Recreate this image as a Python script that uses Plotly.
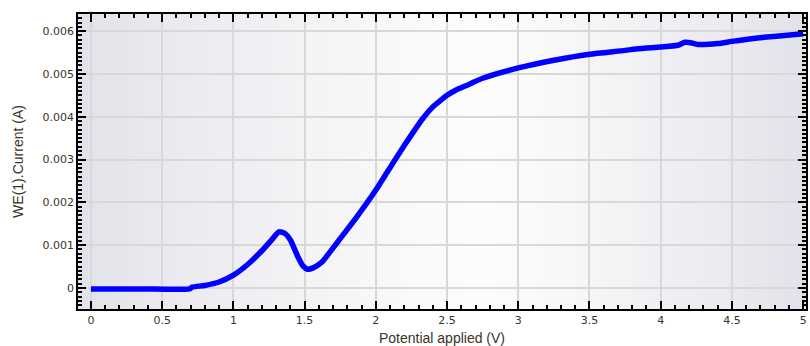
import plotly.graph_objects as go

potential = [0, 0.35, 0.69, 0.71, 0.8, 0.9, 1.0, 1.1, 1.2, 1.27, 1.32, 1.36, 1.40, 1.45, 1.49,
             1.52, 1.56, 1.62, 1.68, 1.74, 1.86, 2.0, 2.09, 2.21, 2.33, 2.40, 2.45, 2.5,
             2.56, 2.65, 2.75, 3.0, 3.25, 3.5, 3.75, 3.84, 4.0, 4.12, 4.17, 4.21, 4.26,
             4.4, 4.5, 4.68, 4.85, 5.0]
current = [-0.00002, -0.00002, -0.00002, 0.00002, 0.00006, 0.00014, 0.00030, 0.00055, 0.00087,
           0.00113, 0.00131, 0.00128, 0.00112, 0.00075, 0.00051, 0.00044, 0.00047,
           0.00060, 0.00085, 0.00111, 0.00163, 0.00229, 0.00276, 0.00338, 0.00396,
           0.00423, 0.00437, 0.00450, 0.00462, 0.00475, 0.00490, 0.00514, 0.00532,
           0.00546, 0.00555, 0.00559, 0.00563, 0.00567, 0.00574, 0.00573, 0.00569,
           0.00571, 0.00576, 0.00584, 0.00589, 0.00594]

fig = go.Figure()
fig.add_trace(go.Scatter(x=potential, y=current, mode="lines",
                         line=dict(color="#0000ff", width=5.5, shape="spline", smoothing=0.6),
                         showlegend=False))

# background gradient strips
n = 80
shapes = []
def col(t):
    c = 0.55
    d = abs(t - c) / (c if t < c else (1 - c))
    r = int(round(252 - (252 - 226) * d ** 1.3))
    g = r
    b = int(round(252 - (252 - 234) * d ** 1.3))
    return f"rgb({r},{g},{b})"
for i in range(n):
    t0, t1 = i / n, (i + 1) / n
    shapes.append(dict(type="rect", xref="x domain", yref="y domain", x0=t0, x1=t1 + 0.002,
                       y0=0, y1=1, fillcolor=col((t0 + t1) / 2), line=dict(width=0), layer="below"))

txt_col = "#3a3326"
axis_common = dict(showline=True, linecolor="black", linewidth=1.5, mirror="ticks",
                   ticks="inside", ticklen=8, tickcolor="black", tickwidth=1.5,
                   showgrid=True, gridcolor="#d8d8d8", gridwidth=2, zeroline=False,
                   tickfont=dict(family="DejaVu Sans", size=11, color=txt_col))

fig.update_layout(
    width=810, height=346,
    margin=dict(l=78, r=2, t=14, b=37),
    paper_bgcolor="white", plot_bgcolor="white",
    shapes=shapes,
    xaxis=dict(range=[-0.091, 5.02], tickmode="array",
               tickvals=[0, 0.5, 1, 1.5, 2, 2.5, 3, 3.5, 4, 4.5, 5],
               ticktext=["0", "0.5", "1", "1.5", "2", "2.5", "3", "3.5", "4", "4.5", "5"],
               minor=dict(ticks="inside", ticklen=4, dtick=0.1, tick0=0, tickcolor="black", showgrid=False),
               title=dict(text="Potential applied (V)", standoff=7,
                          font=dict(family="Liberation Sans", size=14, color=txt_col)),
               **axis_common),
    yaxis=dict(range=[-0.00049, 0.0064], tickmode="array",
               tickvals=[0, 0.001, 0.002, 0.003, 0.004, 0.005, 0.006],
               ticktext=["0", "0.001", "0.002", "0.003", "0.004", "0.005", "0.006"],
               minor=dict(ticks="inside", ticklen=4, dtick=0.0001, tick0=0, tickcolor="black", showgrid=False),
               title=dict(text="WE(1).Current (A)", standoff=16,
                          font=dict(family="Liberation Sans", size=14, color=txt_col)),
               **axis_common),
)

fig.write_html("out.html")
